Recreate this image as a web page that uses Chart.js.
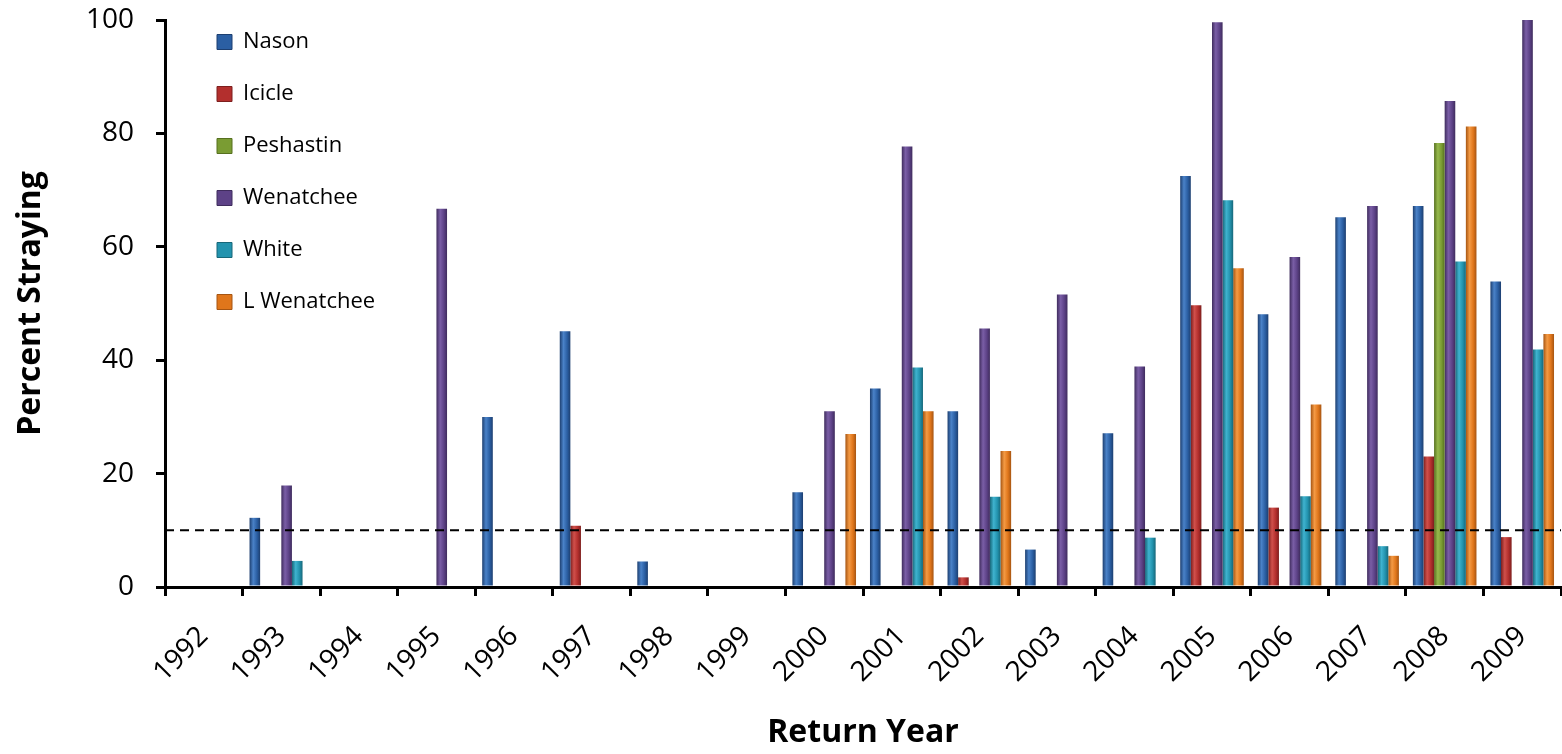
<!DOCTYPE html>
<html>
<head>
<meta charset="utf-8">
<script src="https://cdn.jsdelivr.net/npm/chart.js@4.4.0/dist/chart.umd.min.js"></script>
<style>
  html, body { margin: 0; padding: 0; background: #fff; }
  #wrap { width: 1562px; height: 754px; position: relative; }
</style>
</head>
<body>
<div id="wrap"><canvas id="chart"></canvas></div>
<script>
// return years on the x axis
const years = ['1992', '1993', '1994', '1995', '1996', '1997', '1998', '1999', '2000',
  '2001', '2002', '2003', '2004', '2005', '2006', '2007', '2008', '2009'];

// percent straying per stream (null = no bar)
const nason      = [null, 12.2, null, null, 30.0, 45.1, 4.5, null, 16.7, 35.0, 31.0, 6.6, 27.1, 72.5, 48.1, 65.2, 67.2, 53.9];
const icicle     = [null, null, null, null, null, 10.8, null, null, null, null, 1.7, null, null, 49.7, 14.0, null, 23.0, 8.8];
const peshastin  = [null, null, null, null, null, null, null, null, null, null, null, null, null, null, null, null, 78.3, null];
const wenatchee  = [null, 17.9, null, 66.7, null, null, null, null, 31.0, 77.7, 45.6, 51.6, 38.9, 99.6, 58.2, 67.2, 85.7, 100];
const white      = [null, 4.6, null, null, null, null, null, null, null, 38.7, 15.9, null, 8.7, 68.2, 16.0, 7.2, 57.4, 41.9];
const lWenatchee = [null, null, null, null, null, null, null, null, 27.0, 31.0, 24.0, null, null, 56.2, 32.2, 5.5, 81.2, 44.6];

const yTicks = [0, 20, 40, 60, 80, 100];
const threshold = 10;

const series = [
  { label: 'Nason', data: nason, fill: '#2b5fa3', light: '#4a82c8', dark: '#1d3f70' },
  { label: 'Icicle', data: icicle, fill: '#b32f2d', light: '#d0504b', dark: '#7d1f1e' },
  { label: 'Peshastin', data: peshastin, fill: '#7a9c33', light: '#97b94d', dark: '#56701f' },
  { label: 'Wenatchee', data: wenatchee, fill: '#5d4287', light: '#7a5ea6', dark: '#3f2c5d' },
  { label: 'White', data: white, fill: '#2393ae', light: '#3fb3cf', dark: '#176779' },
  { label: 'L Wenatchee', data: lWenatchee, fill: '#e0761b', light: '#f49a44', dark: '#a65512' }
];

const CAT_PCT = 0.82;

// shaded fill across each bar, taken from the x scale
function barFill(c) {
  const s = series[c.datasetIndex];
  if (c.type !== 'data') return s.fill;
  const xs = c.chart.scales.x;
  const cat = xs.width / years.length;
  const w = cat * CAT_PCT / series.length;
  const x0 = xs.getPixelForValue(c.dataIndex) - cat * CAT_PCT / 2 + c.datasetIndex * w;
  const g = c.chart.ctx.createLinearGradient(x0, 0, x0 + w, 0);
  g.addColorStop(0, s.dark);
  g.addColorStop(0.35, s.light);
  g.addColorStop(0.7, s.fill);
  g.addColorStop(1, s.dark);
  return g;
}

const thresholdLine = {
  id: 'thresholdLine',
  afterDatasetsDraw(chart) {
    const { ctx, chartArea, scales } = chart;
    const y = scales.y.getPixelForValue(threshold);
    ctx.save();
    ctx.strokeStyle = '#000';
    ctx.lineWidth = 2;
    ctx.setLineDash([9, 6]);
    ctx.beginPath();
    ctx.moveTo(chartArea.left, y);
    ctx.lineTo(chartArea.right, y);
    ctx.stroke();
    ctx.restore();
  }
};

// legend sits inside the plot, upper left
const legendShift = {
  id: 'legendShift',
  afterLayout(chart) {
    chart.legend.left = chart.chartArea.left + 22;
    chart.legend.top = chart.chartArea.top - 19;
  }
};

new Chart(document.getElementById('chart'), {
  type: 'bar',
  data: {
    labels: years,
    datasets: series.map(s => ({
      label: s.label,
      data: s.data,
      backgroundColor: barFill,
      borderColor: s.dark,
      borderWidth: 0,
      categoryPercentage: CAT_PCT,
      barPercentage: 1.0
    }))
  },
  options: {
    responsive: true,
    maintainAspectRatio: false,
    animation: false,
    layout: { padding: { top: 20, right: 1, left: 0, bottom: 0 } },
    plugins: {
      legend: {
        position: 'chartArea',
        align: 'start',
        labels: {
          boxWidth: 15,
          boxHeight: 15,
          padding: 30,
          color: '#000',
          font: { family: 'Open Sans', size: 22 },
          generateLabels(chart) {
            return series.map((s, i) => ({
              text: s.label,
              fillStyle: s.fill,
              strokeStyle: s.dark,
              lineWidth: 1,
              datasetIndex: i,
              hidden: false
            }));
          }
        }
      },
      tooltip: { enabled: false }
    },
    scales: {
      x: {
        afterFit(scale) {
          scale.height = 167;
          scale.paddingLeft = 0;
          scale.paddingRight = 0;
        },
        border: { display: true, color: '#000', width: 3 },
        grid: { display: true, offset: true, drawOnChartArea: false, drawTicks: true, tickLength: 9, color: '#000', lineWidth: 3 },
        ticks: {
          color: '#000',
          autoSkip: false,
          maxRotation: 45,
          minRotation: 45,
          padding: 24,
          font: { family: 'Open Sans', size: 28 }
        },
        title: {
          display: true,
          text: 'Return Year',
          color: '#000',
          font: { family: 'Open Sans', size: 32, weight: 'bold', lineHeight: 1.2 },
          padding: { top: 0, bottom: 2 }
        }
      },
      y: {
        min: 0,
        max: 100,
        afterFit(scale) {
          scale.width = 165;
          scale.paddingTop = 0;
          scale.paddingBottom = 0;
        },
        afterBuildTicks(scale) { scale.ticks = yTicks.map(v => ({ value: v })); },
        border: { display: true, color: '#000', width: 3 },
        grid: { display: true, drawOnChartArea: false, drawTicks: true, tickLength: 9, color: '#000', lineWidth: 3 },
        ticks: {
          color: '#000',
          padding: 22,
          font: { family: 'Open Sans', size: 28 }
        },
        title: {
          display: true,
          text: 'Percent Straying',
          color: '#000',
          font: { family: 'Open Sans', size: 32, weight: 'bold', lineHeight: 1.2 },
          padding: { top: 12, bottom: 0 }
        }
      }
    }
  },
  plugins: [thresholdLine, legendShift]
});
</script>
</body>
</html>
